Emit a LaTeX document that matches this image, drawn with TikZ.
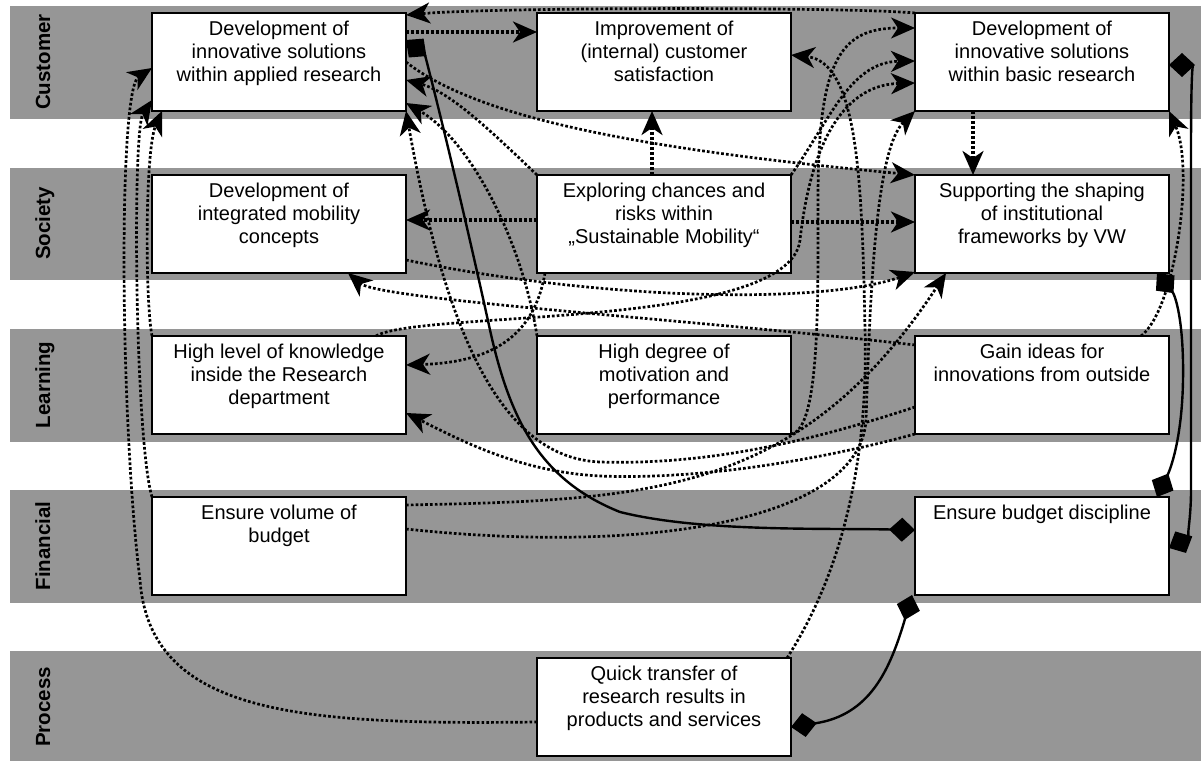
\documentclass[tikz,border=0pt]{standalone}
\usepackage{fontspec}
\setmainfont{Liberation Sans}
\usetikzlibrary{arrows.meta,positioning,calc}
\definecolor{bandgray}{RGB}{150,150,150}
\newcommand{\goaltext}[1]{\parbox[t][86pt][t]{240pt}{\centering\strut #1}}

\begin{document}
\begin{tikzpicture}[
    x=1pt, y=-1pt,
    band/.style={fill=bandgray},
    lane/.style={rotate=90, anchor=base, font=\fontsize{20.5}{24}\selectfont\bfseries},
    goal/.style={draw, line width=1.8pt, fill=white, outer sep=0pt, inner xsep=7pt, inner ysep=6pt, font=\fontsize{20}{23}\selectfont},
    link/.style={-{Stealth[length=24pt,width=21pt,inset=7pt]}, line width=2.7pt, dash pattern=on 2.7pt off 2.1pt},
    mainlink/.style={link, line width=3.2pt, dash pattern=on 3.2pt off 1.8pt},
    budget/.style={{Diamond[length=26pt,width=24pt]}-{Diamond[length=26pt,width=24pt]}, line width=2.4pt}
]
\useasboundingbox (0,0) rectangle (1201,760);

% Perspectives
\foreach \ytop/\lbl in {6/Customer, 167.5/Society, 329/Learning, 490/Financial, 651/Process} {
  \fill[band] (10,\ytop) rectangle (1201,\ytop+112.5);
  \node[lane] (lane-\lbl) at (50,\ytop+56) {\lbl};
}

% Customer
\node[goal, anchor=north west] (applied) at (152,13) {\goaltext{Development of\\innovative solutions\\within applied research}};
\node[goal, right=131pt of applied] (satisf) {\goaltext{Improvement of\\(internal) customer\\satisfaction}};
\node[goal, right=124pt of satisf] (basic) {\goaltext{Development of\\innovative solutions\\within basic research}};

% Society
\node[goal, below=64pt of applied] (mobility) {\goaltext{Development of\\integrated mobility\\concepts}};
\node[goal, below=64pt of satisf] (explore) {\goaltext{Exploring chances and\\risks within\\„Sustainable Mobility“}};
\node[goal, below=64pt of basic] (frame) {\goaltext{Supporting the shaping\\of institutional\\frameworks by VW}};

% Learning
\node[goal, below=63pt of mobility] (know) {\goaltext{High level of knowledge\\inside the Research\\department}};
\node[goal, below=63pt of explore] (motiv) {\goaltext{High degree of\\motivation and\\performance}};
\node[goal, below=63pt of frame] (ideas) {\goaltext{Gain ideas for\\innovations from outside}};

% Financial
\node[goal, below=63pt of know] (volume) {\goaltext{Ensure volume of\\budget}};
\node[goal, below=63pt of ideas] (discip) {\goaltext{Ensure budget discipline}};

% Process
\node[goal, below=224pt of motiv] (transfer) {\goaltext{Quick transfer of\\research results in\\products and services}};

% Straight links
\draw[mainlink] ($(applied.north east)+(0,19)$) -- ($(satisf.north west)+(0,19)$);
\draw[mainlink] ($(explore.north)+(-12,0)$) -- ($(satisf.south)+(-12,0)$);
\draw[mainlink] ($(basic.south)+(-69,0)$) -- ($(frame.north)+(-69,0)$);
\draw[mainlink] ($(explore.west)+(0,-4)$) -- ($(mobility.east)+(0,-4)$);
\draw[mainlink] ($(explore.east)+(0,-2)$) -- ($(frame.west)+(0,-2)$);

% Curved links
\draw[link] (basic.north west) .. controls (850,7) and (500,7) .. ($(applied.north east)+(0,2)$);
\draw[link] (explore.north west) .. controls (490,130) and (450,92) .. ($(applied.north east)+(0,67)$);
\draw[link] (motiv.north west) .. controls (522,240) and (470,140) .. ($(applied.north east)+(0,90)$);
\draw[link] ($(ideas.north west)+(0,71)$) .. controls (800,445) and (700,465) .. (600,462) .. controls (500,458) and (445,330) .. (applied.south east);
\draw[link] (ideas.south west) .. controls (820,460) and (700,480) .. (600,476) .. controls (520,472) and (460,440) .. ($(know.north east)+(0,77)$);
\draw[link] ($(ideas.north west)+(0,9)$) .. controls (700,320) and (380,300) .. ($(mobility.south east)+(-58,0)$);
\draw[link] ($(ideas.north east)+(-28,0)$) .. controls (1175,310) and (1195,170) .. (basic.south east);
\draw[link] ($(explore.south west)+(8,0)$) .. controls (535,330) and (500,362) .. ($(know.north east)+(0,29)$);
\draw[link] ($(mobility.north east)+(0,85)$) .. controls (600,300) and (820,305) .. ($(frame.south west)+(0,-1)$);
\draw[link] ($(know.north east)+(-30,0)$) .. controls (420,310) and (790,330) .. (800,240) .. controls (810,150) and (840,85) .. ($(basic.north west)+(0,70)$);
\draw[link] (explore.north east) .. controls (830,120) and (850,62) .. ($(basic.north west)+(0,48)$);
\draw[link] (motiv.south east) .. controls (820,430) and (818,300) .. (818,200) .. controls (818,60) and (840,28) .. ($(basic.north west)+(0,15)$);
\draw[link] ($(volume.north east)+(0,32)$) .. controls (650,555) and (860,520) .. (866,420) .. controls (870,300) and (875,150) .. (basic.south west);
\draw[link] ($(transfer.north east)+(-4,0)$) .. controls (850,560) and (868,440) .. (865,330) .. controls (862,180) and (858,62) .. ($(satisf.north east)+(0,42)$);
\draw[link] ($(volume.north east)+(0,8)$) .. controls (650,500) and (800,495) .. ($(frame.south west)+(31,0)$);
\draw[link] (applied.east) .. controls (480,120) and (650,150) .. (frame.north west);
\draw[link] ($(transfer.north west)+(0,64)$) .. controls (300,725) and (150,715) .. (140,580) .. controls (120,420) and (118,90) .. ($(applied.north west)+(0,55)$);
\draw[link] (volume.north west) .. controls (135,440) and (132,130) .. ($(applied.north west)+(0,87)$);
\draw[link] (know.north west) .. controls (145,300) and (145,150) .. ($(applied.south west)+(10,0)$);

% Budget links
\draw[budget] ($(applied.north east)+(0,27)$) .. controls (425,55) and (455,170) .. (490,330) .. controls (510,420) and (540,480) .. (620,512) .. controls (700,532) and (820,528) .. ($(discip.west)+(0,-16)$);
\draw[budget] ($(basic.east)+(0,3)$) .. controls (1192,65) and (1191,90) .. (1191,150) -- (1191,490) .. controls (1191,525) and (1185,540) .. ($(discip.east)+(0,2)$);
\draw[budget] ($(frame.south east)+(-12,0)$) .. controls (1175,295) and (1184,320) .. (1183,380) .. controls (1182,440) and (1170,470) .. ($(discip.north east)+(-12,0)$);
\draw[budget] ($(discip.south west)+(-3,0)$) .. controls (890,670) and (870,715) .. ($(transfer.north east)+(0,69)$);

\end{tikzpicture}
\end{document}
